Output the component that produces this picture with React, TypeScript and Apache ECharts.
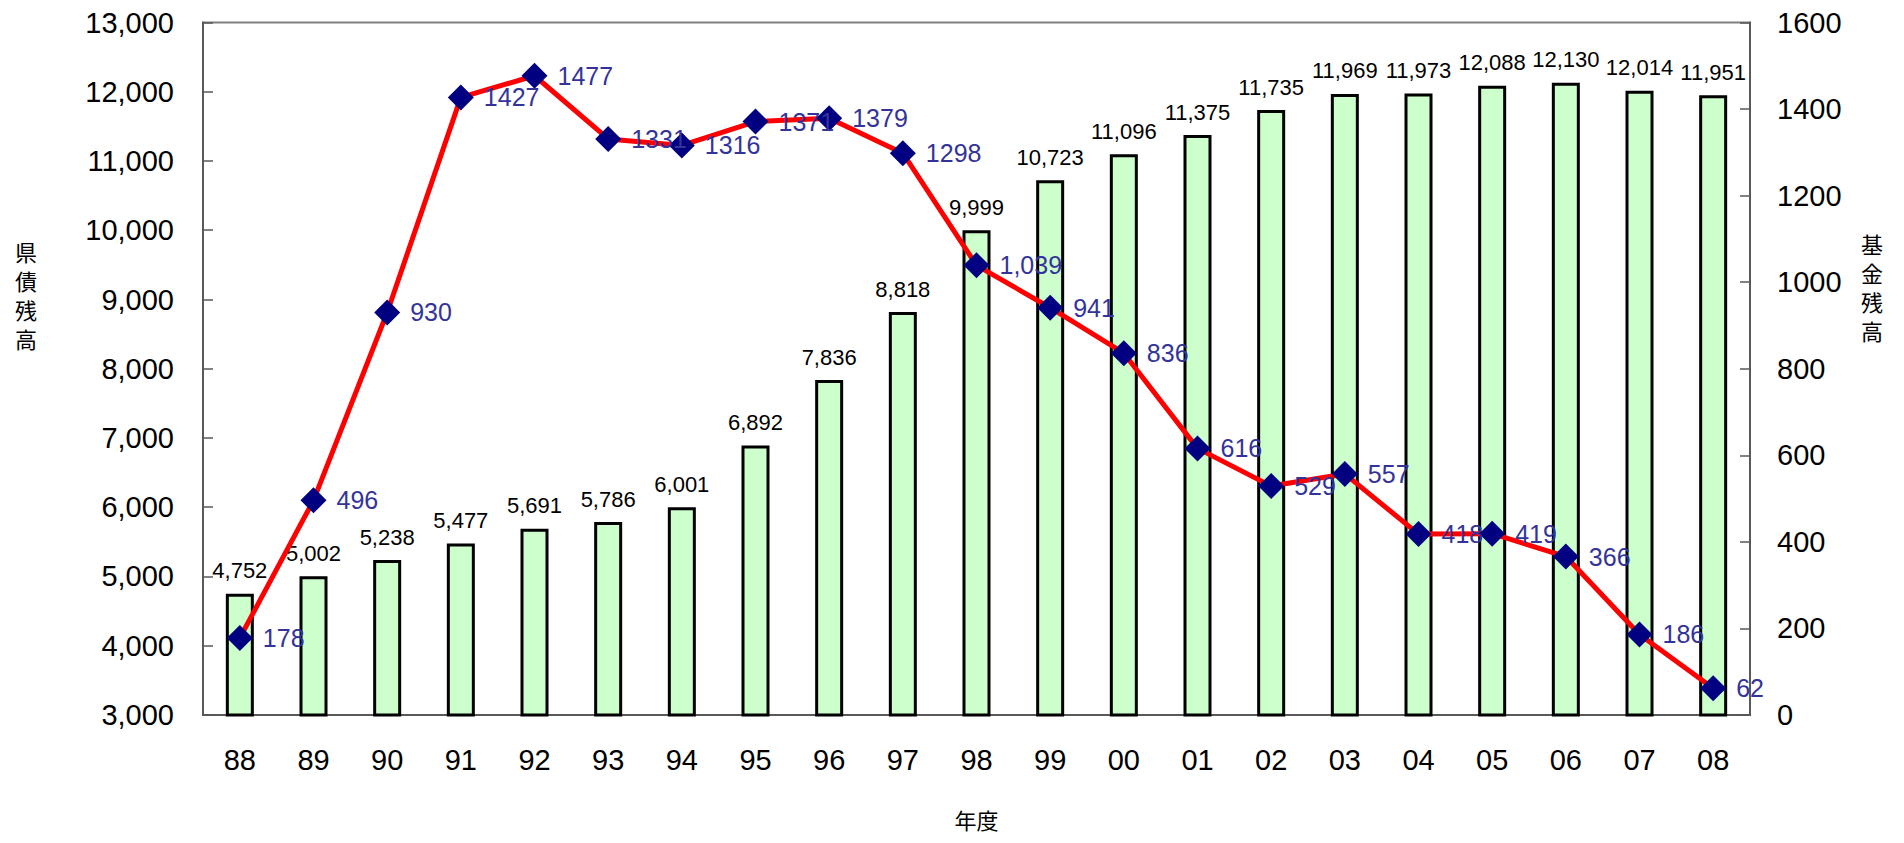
import React, { useEffect, useRef } from "react";
import * as echarts from "echarts";

const categories = ["88","89","90","91","92","93","94","95","96","97","98","99","00","01","02","03","04","05","06","07","08"];
const debtValues = [4752,5002,5238,5477,5691,5786,6001,6892,7836,8818,9999,10723,11096,11375,11735,11969,11973,12088,12130,12014,11951];
const fundValues = [178,496,930,1427,1477,1331,1316,1371,1379,1298,1039,941,836,616,529,557,418,419,366,186,62];
const fundLabels = ["178","496","930","1427","1477","1331","1316","1371","1379","1298","1,039","941","836","616","529","557","418","419","366","186","62"];

const NUM_FONT = "'Liberation Sans', Arial, 'Noto Sans CJK JP', sans-serif";
const CJK_FONT = "'Noto Sans CJK JP', sans-serif";

export default function App() {
  const ref = useRef<HTMLDivElement>(null);
  useEffect(() => {
    if (!ref.current) return;
    const chart = echarts.init(ref.current, undefined, { renderer: "svg" });
    chart.setOption({
      animation: false,
      backgroundColor: "#ffffff",
      grid: { left: 195, right: 146, top: 12, bottom: 100, show: true, borderColor: "#808080", borderWidth: 2, containLabel: false },
      xAxis: {
        type: "category",
        data: categories,
        boundaryGap: true,
        axisLine: { lineStyle: { color: "#595959", width: 2 } },
        axisTick: { inside: true, length: 10, lineStyle: { color: "#595959", width: 1.5 } },
        axisLabel: { color: "#000", fontSize: 29, fontFamily: NUM_FONT, margin: 30 },
        name: "年度",
        nameLocation: "middle",
        nameGap: 93,
        nameTextStyle: { color: "#000", fontSize: 22, fontFamily: CJK_FONT },
      },
      yAxis: [
        {
          type: "value",
          min: 3000,
          max: 13000,
          interval: 1000,
          splitLine: { show: false },
          axisLine: { show: true, lineStyle: { color: "#595959", width: 2 } },
          axisTick: { show: true, inside: true, length: 10, lineStyle: { color: "#595959", width: 1.5 } },
          axisLabel: {
            color: "#000",
            fontSize: 29,
            fontFamily: NUM_FONT,
            margin: 29,
            formatter: (v: number) => v.toLocaleString("en-US"),
          },
        },
        {
          type: "value",
          min: 0,
          max: 1600,
          interval: 200,
          splitLine: { show: false },
          axisLine: { show: true, lineStyle: { color: "#595959", width: 2 } },
          axisTick: { show: true, inside: true, length: 10, lineStyle: { color: "#595959", width: 1.5 } },
          axisLabel: { color: "#000", fontSize: 29, fontFamily: NUM_FONT, margin: 27, formatter: (v: number) => String(v) },
        },
      ],
      series: [
        {
          type: "bar",
          data: debtValues,
          yAxisIndex: 0,
          barWidth: 28,
          itemStyle: { color: "#CCFFCC", borderColor: "#000", borderWidth: 3 },
          label: {
            show: true,
            position: "top",
            distance: 12,
            color: "#000",
            fontSize: 22,
            fontFamily: NUM_FONT,
            formatter: (p: any) => Number(p.value).toLocaleString("en-US"),
          },
          z: 2,
        },
        {
          type: "line",
          data: fundValues,
          yAxisIndex: 1,
          symbol: "diamond",
          symbolSize: [26, 26],
          lineStyle: { color: "#FF0000", width: 5 },
          itemStyle: { color: "#000080" },
          label: {
            show: true,
            position: "right",
            distance: 10,
            color: "#333399",
            fontSize: 25,
            fontFamily: NUM_FONT,
            formatter: (p: any) => fundLabels[p.dataIndex],
          },
          z: 3,
        },
      ],
      graphic: [
        {
          type: "text",
          left: 7,
          top: 228,
          style: { text: "県\n債\n残\n高", fill: "#000", fontSize: 22, lineHeight: 29, fontFamily: CJK_FONT },
        },
        {
          type: "text",
          left: 1853,
          top: 220,
          style: { text: "基\n金\n残\n高", fill: "#000", fontSize: 22, lineHeight: 29, fontFamily: CJK_FONT },
        },
      ],
    });
    return () => chart.dispose();
  }, []);
  return <div ref={ref} style={{ width: 1888, height: 827 }} />;
}
